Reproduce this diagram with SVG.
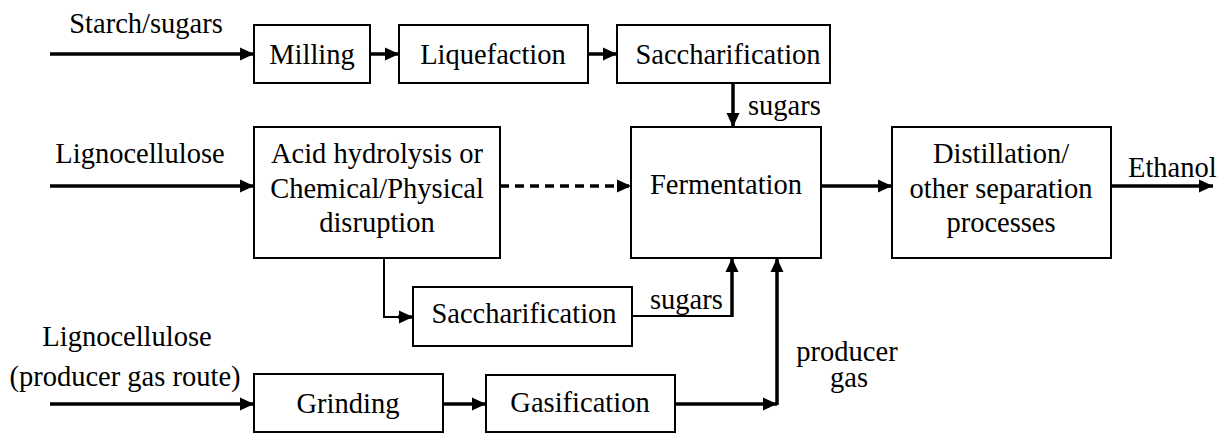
<svg xmlns="http://www.w3.org/2000/svg" width="1220" height="433" viewBox="0 0 1220 433">
<style>
text{font-family:'Liberation Serif','Times New Roman',serif;font-size:28.5px;fill:#000}
.c{text-anchor:middle}
.box{fill:#fff;stroke:#000;stroke-width:2}
.thick{fill:none;stroke:#000;stroke-width:3.5}
.thin{fill:none;stroke:#000;stroke-width:2}
.dash{fill:none;stroke:#000;stroke-width:3.5;stroke-dasharray:9 6}
</style>
<defs>
<marker id="ah" markerUnits="userSpaceOnUse" markerWidth="15" markerHeight="14" refX="14" refY="7" orient="auto">
<path d="M0,0.5 L14,7 L0,13.5 z" fill="#000"/>
</marker>
</defs>
<rect width="1220" height="433" fill="#fff"/>
<g id="connectors">
<path class="thick" d="M50,54 H254" marker-end="url(#ah)"/>
<path class="thick" d="M370,54 H399" marker-end="url(#ah)"/>
<path class="thick" d="M588,54 H617" marker-end="url(#ah)"/>
<path class="thick" d="M733,83 V127" marker-end="url(#ah)"/>
<path class="thick" d="M50,186 H254" marker-end="url(#ah)"/>
<path class="dash" d="M500,186 H631" marker-end="url(#ah)"/>
<path class="thick" d="M821,186 H892" marker-end="url(#ah)"/>
<path class="thick" d="M1111,186 H1213" marker-end="url(#ah)"/>
<path class="thin" d="M384,258 V317 H400"/>
<path class="thick" d="M398,317 H413" marker-end="url(#ah)"/>
<path class="thin" d="M632,316 H732"/>
<path class="thick" d="M732,317 V258" marker-end="url(#ah)"/>
<path class="thick" d="M50,404 H254" marker-end="url(#ah)"/>
<path class="thick" d="M443,404 H486" marker-end="url(#ah)"/>
<path class="thick" d="M675,404 H777" marker-end="url(#ah)"/>
<path class="thick" d="M777,405 V258" marker-end="url(#ah)"/>
<text x="748" y="115">sugars</text>
<text x="650" y="309">sugars</text>
<text x="847" y="361" class="c">producer</text>
<text x="849" y="387" class="c">gas</text>
<text x="1128" y="177">Ethanol</text>
</g>
<g id="input-starch"><text x="146" y="33" class="c">Starch/sugars</text></g>
<g id="input-ligno"><text x="140" y="163" class="c">Lignocellulose</text></g>
<g id="input-ligno-gas"><text x="127" y="346" class="c">Lignocellulose</text><text x="125" y="386" class="c">(producer gas route)</text></g>
<g id="milling"><rect class="box" x="254" y="25" width="116" height="58"/><text x="312" y="64" class="c">Milling</text></g>
<g id="liquefaction"><rect class="box" x="399" y="25" width="189" height="58"/><text x="493" y="64" class="c">Liquefaction</text></g>
<g id="saccharification-top"><rect class="box" x="617" y="25" width="213" height="58"/><text x="728" y="64" class="c">Saccharification</text></g>
<g id="acid"><rect class="box" x="254" y="127" width="246" height="131"/><text x="377" y="163" class="c">Acid hydrolysis or</text><text x="377" y="198" class="c">Chemical/Physical</text><text x="377" y="232" class="c">disruption</text></g>
<g id="fermentation"><rect class="box" x="631" y="127" width="190" height="131"/><text x="726" y="194" class="c">Fermentation</text></g>
<g id="distillation"><rect class="box" x="892" y="127" width="219" height="131"/><text x="1001" y="163" class="c">Distillation/</text><text x="1001" y="198" class="c">other separation</text><text x="1001" y="232" class="c">processes</text></g>
<g id="saccharification-low"><rect class="box" x="413" y="287" width="219" height="59"/><text x="524" y="323" class="c">Saccharification</text></g>
<g id="grinding"><rect class="box" x="254" y="374" width="189" height="58"/><text x="348" y="413" class="c">Grinding</text></g>
<g id="gasification"><rect class="box" x="486" y="375" width="189" height="57"/><text x="580" y="412" class="c">Gasification</text></g>
</svg>
